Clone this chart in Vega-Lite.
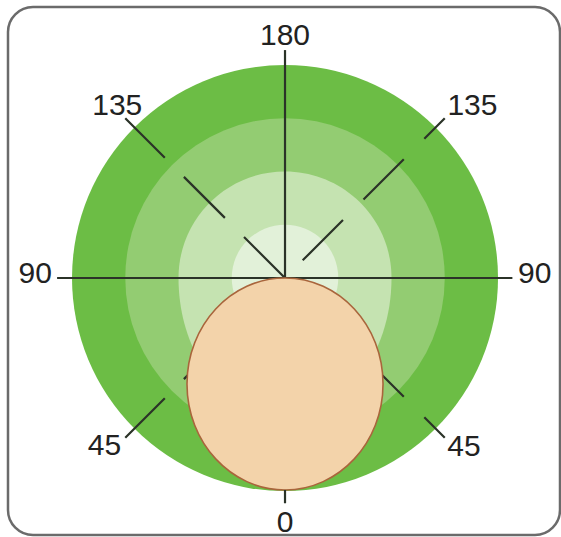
{
  "$schema": "https://vega.github.io/schema/vega-lite/v6.json",
  "width": 552,
  "height": 528,
  "autosize": "none",
  "padding": {"left": 8, "top": 7, "right": 1, "bottom": 2},
  "background": "white",
  "config": {"view": {"stroke": "#6b6b6b", "strokeWidth": 2.5, "cornerRadius": 25}},
  "datasets": {
    "zones": [
      {"zone": "4", "cx": 0, "cy": 0, "r": 4},
      {"zone": "3", "cx": 0, "cy": 0, "r": 3},
      {"zone": "2", "cx": 0, "cy": 0, "r": 2},
      {"zone": "1", "cx": 0, "cy": 0, "r": 1}
    ],
    "head": [
      {"part": "head", "cx": 0, "cy": -1.99, "r": 1.99}
    ],
    "rays": [
      {"kind": "axis", "x": 0, "y": 0, "x2": 0, "y2": 4.28},
      {"kind": "axis", "x": -4.28, "y": 0, "x2": 4.27, "y2": 0},
      {"kind": "left", "x": 0, "y": 0, "x2": -3.0, "y2": 3.0},
      {"kind": "left", "x": 0, "y": 0, "x2": -3.0, "y2": -3.0},
      {"kind": "right", "x": 0, "y": 0, "x2": 3.0, "y2": 3.0},
      {"kind": "right", "x": 0, "y": 0, "x2": 3.0, "y2": -3.0},
      {"kind": "tick", "x": 0, "y": -3.98, "x2": 0, "y2": -4.23}
    ],
    "labels": [
      {"label": "180", "x": 0, "y": 4.375},
      {"label": "0", "x": 0, "y": -4.77},
      {"label": "90", "x": -4.69, "y": -0.1},
      {"label": "90", "x": 4.69, "y": -0.1},
      {"label": "135", "x": -3.15, "y": 3.06},
      {"label": "135", "x": 3.52, "y": 3.06},
      {"label": "45", "x": -3.39, "y": -3.33},
      {"label": "45", "x": 3.36, "y": -3.35}
    ]
  },
  "encoding": {
    "x": {"field": "cx", "type": "quantitative", "scale": {"domain": [-5.202, 5.164], "nice": false, "zero": false}, "axis": null},
    "y": {"field": "cy", "type": "quantitative", "scale": {"domain": [-4.826, 5.089], "nice": false, "zero": false}, "axis": null}
  },
  "layer": [
    {
      "data": {"name": "zones"},
      "mark": {"type": "point", "filled": true, "opacity": 1, "strokeWidth": 0},
      "encoding": {
        "size": {"field": "r", "type": "quantitative", "scale": {"type": "pow", "exponent": 2, "domain": [0, 4], "range": [0, 181476]}, "legend": null},
        "color": {"field": "zone", "type": "nominal", "scale": {"domain": ["4", "3", "2", "1"], "range": ["#6cbd45", "#93cc72", "#c5e3b1", "#e2f1d9"]}, "legend": null},
        "shape": {"field": "zone", "type": "nominal", "scale": {"domain": ["4", "3", "2", "1"], "range": ["circle", "circle", "M-1,0A1,1 0 0 1 1,0A1,1.3 0 0 1 -1,0Z", "circle"]}, "legend": null},
        "order": {"field": "r", "sort": "descending"}
      }
    },
    {
      "data": {"name": "rays"},
      "transform": [{"filter": "datum.kind == 'axis'"}],
      "mark": {"type": "rule", "color": "#2b3328", "strokeWidth": 2.2},
      "encoding": {
        "x": {"field": "x", "type": "quantitative"},
        "y": {"field": "y", "type": "quantitative"},
        "x2": {"field": "x2"},
        "y2": {"field": "y2"}
      }
    },
    {
      "data": {"name": "rays"},
      "transform": [{"filter": "datum.kind == 'left'"}],
      "mark": {"type": "rule", "color": "#2b3328", "strokeWidth": 2.2, "strokeDash": [58, 27]},
      "encoding": {
        "x": {"field": "x", "type": "quantitative"},
        "y": {"field": "y", "type": "quantitative"},
        "x2": {"field": "x2"},
        "y2": {"field": "y2"}
      }
    },
    {
      "data": {"name": "rays"},
      "transform": [{"filter": "datum.kind == 'right'"}],
      "mark": {"type": "rule", "color": "#2b3328", "strokeWidth": 2.2, "strokeDash": [57, 29], "strokeDashOffset": 61},
      "encoding": {
        "x": {"field": "x", "type": "quantitative"},
        "y": {"field": "y", "type": "quantitative"},
        "x2": {"field": "x2"},
        "y2": {"field": "y2"}
      }
    },
    {
      "data": {"name": "head"},
      "mark": {"type": "point", "filled": true, "opacity": 1, "fill": "#f3d3aa", "stroke": "#a9653c", "strokeWidth": 1.6, "shape": "M0,-1A0.925,1 0 1 1 0,1A0.925,1 0 1 1 0,-1Z"},
      "encoding": {
        "size": {"field": "r", "type": "quantitative", "scale": {"type": "pow", "exponent": 2, "domain": [0, 4], "range": [0, 181476]}, "legend": null}
      }
    },
    {
      "data": {"name": "rays"},
      "transform": [{"filter": "datum.kind == 'tick'"}],
      "mark": {"type": "rule", "color": "#2b3328", "strokeWidth": 2.2},
      "encoding": {
        "x": {"field": "x", "type": "quantitative"},
        "y": {"field": "y", "type": "quantitative"},
        "x2": {"field": "x2"},
        "y2": {"field": "y2"}
      }
    },
    {
      "data": {"name": "labels"},
      "mark": {"type": "text", "font": "Liberation Sans", "fontSize": 30, "color": "#222222", "align": "center", "baseline": "alphabetic"},
      "encoding": {
        "x": {"field": "x", "type": "quantitative"},
        "y": {"field": "y", "type": "quantitative"},
        "text": {"field": "label"}
      }
    }
  ]
}
